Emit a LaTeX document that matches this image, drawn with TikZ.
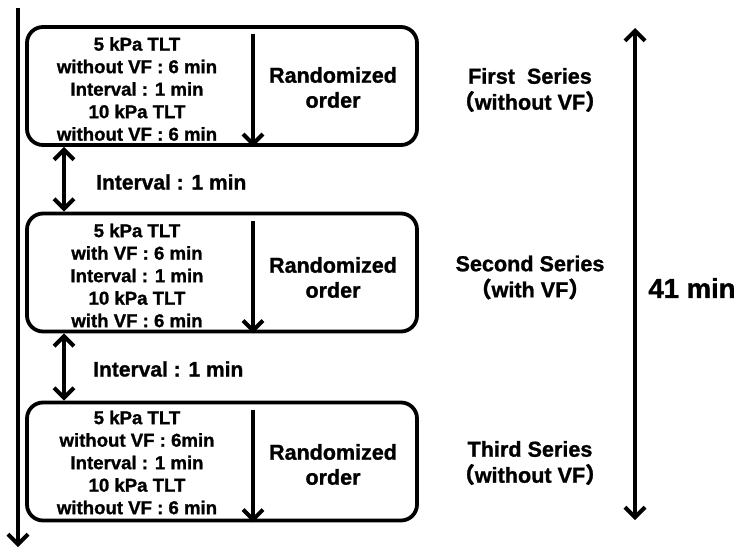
\documentclass[tikz,border=0pt]{standalone}
\usepackage{fontspec}
\setmainfont[BoldFeatures={FakeBold=1.2}]{Liberation Sans}
\newfontfamily\cjk[BoldFeatures={FakeBold=1.2}]{Noto Sans CJK SC}
\usetikzlibrary{arrows.meta}
\begin{document}
\begin{tikzpicture}[x=1pt,y=-1pt,
  series/.style={draw,line width=3.8pt,rounded corners=16pt,minimum width=390pt,minimum height=118pt,inner sep=0pt},
  lines/.style={font=\bfseries\fontsize{18.6}{22.5}\selectfont,align=center,inner sep=0pt},
  rand/.style={font=\bfseries\fontsize{21.5}{25}\selectfont,align=center,inner sep=0pt},
  lab/.style={font=\bfseries\fontsize{21.6}{26}\selectfont,align=center,inner sep=0pt},
  ivl/.style={font=\bfseries\fontsize{21}{25}\selectfont,anchor=west,inner sep=0pt},
  arr/.style={line width=4pt,-{Straight Barb[length=10pt,width=20pt]}},
  darr/.style={line width=4pt,{Straight Barb[length=10pt,width=20pt]}-{Straight Barb[length=10pt,width=20pt]}}
]
\useasboundingbox (0,0) rectangle (737,549);
% timeline
\coordinate (tl0) at (18,8);
\coordinate (tl1) at (18,547);
\draw[arr] (tl0) -- (tl1);
% boxes
\node[series] (b1) at (222,86) {};
\node[series] (b2) at (222,272.5) {};
\node[series] (b3) at (222,461.5) {};
% box texts
\node[lines] (t1) at (137,89) {5 kPa TLT\\without VF : 6 min\\Interval : 1 min\\10 kPa TLT\\without VF : 6 min};
\node[lines] (t2) at (137,275.5) {5 kPa TLT\\with VF : 6 min\\Interval : 1 min\\10 kPa TLT\\with VF : 6 min};
\node[lines] (t3) at (137,462.5) {5 kPa TLT\\without VF : 6min\\Interval : 1 min\\10 kPa TLT\\without VF : 6 min};
% randomized
\node[rand] (r1) at (333,87.5) {Randomized\\order};
\node[rand] (r2) at (333,277.5) {Randomized\\order};
\node[rand] (r3) at (333,464.5) {Randomized\\order};
% inner arrows
\coordinate (a1) at (253,34);
\coordinate (a2) at (253,221);
\coordinate (a3) at (253,410);
\draw[arr] (a1) -- (a1 |- b1.south);
\draw[arr] (a2) -- (a2 |- b2.south);
\draw[arr] (a3) -- (a3 |- b3.south);
% interval arrows
\coordinate (ax) at (64,0);
\draw[darr] (ax |- b1.south) -- (ax |- b2.north);
\draw[darr] (ax |- b2.south) -- (ax |- b3.north);
\node[ivl] (i1) at (96,182) {Interval : 1 min};
\node[ivl] (i2) at (93,369) {Interval : 1 min};
% series labels
\node[lab] (s1) at (530,90) {First\ \ Series\\{\cjk （}without VF{\cjk ）}};
\node[lab] (s2) at (530,277.5) {Second Series\\{\cjk （}with VF{\cjk ）}};
\node[lab] (s3) at (530,463) {Third Series\\{\cjk （}without VF{\cjk ）}};
% total
\coordinate (g0) at (635,28);
\coordinate (g1) at (635,520);
\draw[darr] (g0) -- (g1);
\node[font=\bfseries\fontsize{27.5}{30}\selectfont,inner sep=0pt] (tot) at (692,288) {41 min};
\end{tikzpicture}
\end{document}
